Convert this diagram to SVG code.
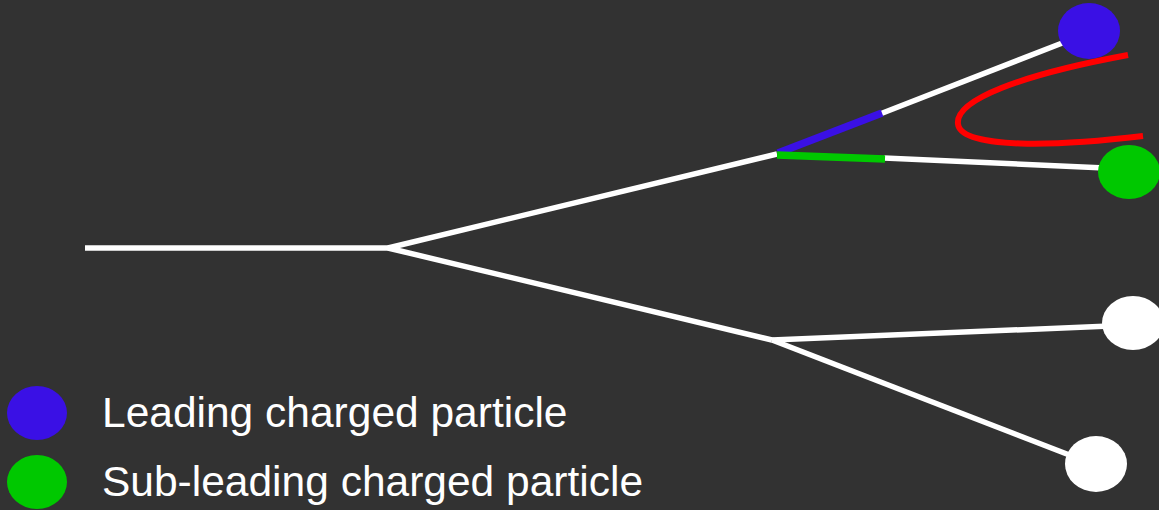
<svg xmlns="http://www.w3.org/2000/svg" width="1159" height="510" viewBox="0 0 1159 510">
<style>
.t{stroke:#ffffff;stroke-width:5.5;fill:none;stroke-linecap:butt}
.lbl{font-family:"Liberation Sans",Arial,sans-serif;font-size:42.5px;fill:#ffffff}
</style>
<rect width="1159" height="510" fill="#323232"/>
<g id="connectors">
<line class="t" x1="85" y1="248" x2="388" y2="248"/>
<line class="t" x1="388" y1="248" x2="777" y2="154"/>
<line class="t" x1="388" y1="248" x2="772" y2="340"/>
<line class="t" x1="880" y1="114" x2="1070" y2="40"/>
<line x1="778" y1="153" x2="882" y2="113" stroke="#3a10e5" stroke-width="7.5"/>
<line class="t" x1="884" y1="158" x2="1105" y2="168"/>
<line x1="777" y1="155" x2="885" y2="159" stroke="#00c800" stroke-width="7.5"/>
<line class="t" x1="772" y1="340" x2="1110" y2="326"/>
<line class="t" x1="772" y1="340" x2="1072" y2="456"/>
<path d="M1128,55 C1020,75 955,100 958,124 C961,150 1060,146 1143,136" stroke="#ff0000" stroke-width="6" fill="none"/>
</g>
<g id="leading"><ellipse cx="1089" cy="31" rx="31" ry="28" fill="#3a10e5"/></g>
<g id="subleading"><ellipse cx="1129" cy="172" rx="31" ry="27" fill="#00c800"/></g>
<g id="neutral1"><ellipse cx="1133" cy="323" rx="31" ry="27" fill="#ffffff"/></g>
<g id="neutral2"><ellipse cx="1096" cy="464" rx="31" ry="28" fill="#ffffff"/></g>
<g id="legend-leading">
<ellipse cx="37" cy="413" rx="30" ry="27" fill="#3a10e5"/>
<text class="lbl" x="102" y="427">Leading charged particle</text>
</g>
<g id="legend-subleading">
<ellipse cx="37" cy="482" rx="30" ry="27" fill="#00c800"/>
<text class="lbl" x="102" y="496">Sub-leading charged particle</text>
</g>
</svg>
